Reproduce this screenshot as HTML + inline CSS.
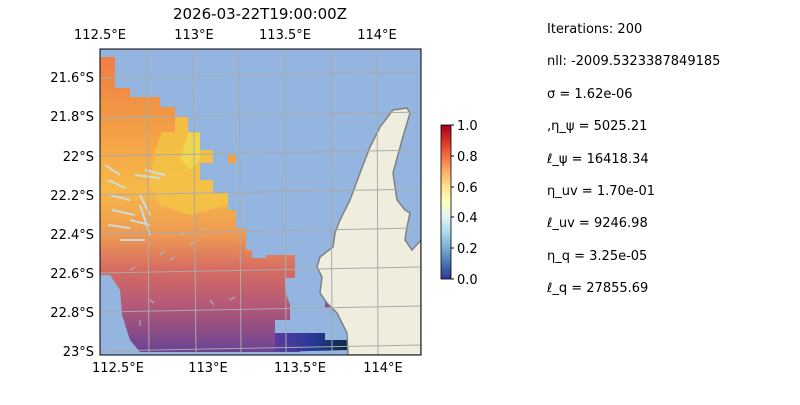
<!DOCTYPE html>
<html><head><style>
body{margin:0;background:#fff;width:800px;height:400px;overflow:hidden;font-family:"Liberation Sans","DejaVu Sans",sans-serif;}
svg text{font-family:"DejaVu Sans","Liberation Sans",sans-serif;font-size:13px;fill:#000}
</style></head><body>
<svg width="800" height="400" xmlns="http://www.w3.org/2000/svg">
<defs>
<linearGradient id="cb" x1="0" y1="1" x2="0" y2="0">
<stop offset="0" stop-color="#313695"/><stop offset="0.1" stop-color="#4575b4"/><stop offset="0.2" stop-color="#74add1"/><stop offset="0.3" stop-color="#abd9e9"/><stop offset="0.4" stop-color="#e0f3f8"/><stop offset="0.5" stop-color="#ffffbf"/><stop offset="0.6" stop-color="#fee090"/><stop offset="0.7" stop-color="#fdae61"/><stop offset="0.8" stop-color="#f46d43"/><stop offset="0.9" stop-color="#d73027"/><stop offset="1" stop-color="#a50026"/>
</linearGradient>
<linearGradient id="fld" x1="0" y1="57" x2="0" y2="352" gradientUnits="userSpaceOnUse">
<stop offset="0" stop-color="#ef7d45"/><stop offset="0.25" stop-color="#f3a045"/><stop offset="0.45" stop-color="#f7b948"/><stop offset="0.6" stop-color="#ee9a52"/><stop offset="0.72" stop-color="#d66c62"/><stop offset="0.85" stop-color="#b25878"/><stop offset="1" stop-color="#6a4294"/>
</linearGradient>
<linearGradient id="blu" x1="275" y1="0" x2="348" y2="0" gradientUnits="userSpaceOnUse">
<stop offset="0" stop-color="#5a3aa0"/><stop offset="0.5" stop-color="#283a98"/><stop offset="1" stop-color="#0a2a45"/>
</linearGradient>
<clipPath id="ax"><rect x="100" y="49" width="321" height="306"/></clipPath>
</defs>
<rect x="100" y="49" width="321" height="306" fill="#94b5e0"/>
<g clip-path="url(#ax)">
<polygon fill="url(#fld)" points="100,57 115,57 115,88 130,88 130,97 160,97 160,107 175,107 175,117 188,117 188,132 200,132 200,150 213,150 213,163 200,163 200,180 213,180 213,193 228,193 228,210 236,210 236,228 246,228 246,250 252,250 252,258 266,258 266,255 295,255 295,278 285,278 285,290 290,305 290,320 275,320 275,335 300,335 300,352 240,352 140,352 130,340 122,315 120,290 110,275 100,275"/>
<polygon fill="#f4c145" opacity="0.9" points="162,132 175,132 175,117 188,117 188,132 200,132 200,150 213,150 213,163 200,163 200,180 213,180 213,193 228,193 228,205 190,215 160,205 150,185 155,150"/>
<polygon fill="#ece050" opacity="0.7" points="188,133 200,133 200,160 190,170 180,160"/>
<polygon fill="url(#blu)" points="275,333 325,333 325,340 348,340 348,350 275,352"/>
<rect x="325" y="300" width="8" height="8" fill="#8a4a90"/>
<rect x="228" y="155" width="8" height="8" fill="#f4a040"/>
<g stroke="#c8e4f0" stroke-width="2" opacity="0.85" fill="none">
<path d="M105,165 L120,175 M108,180 L125,188 M110,195 L130,200 M112,210 L135,215 M108,225 L130,228 M120,240 L145,240 M135,175 L160,178 M140,195 L150,215 M145,170 L165,175 M140,205 L150,235 M130,220 L150,225"/>
</g>
<g stroke="#9ec8e0" stroke-width="1.2" opacity="0.8">
<path d="M130,270 l5,-3 M160,255 l5,-4 M180,235 l5,-2 M200,230 l5,-2 M210,300 l4,5 M230,300 l5,-3 M140,320 l0,6 M150,300 l4,3 M190,245 l4,-2 M170,260 l5,-3"/>
</g>
<polygon fill="#efedde" stroke="#808080" stroke-width="1.5" points="393,110 407,108 410,113 402,140 393,173 397,200 405,210 410,213 407,227 405,240 412,250 421,240 421,355 348,355 347,333 337,313 327,303 320,293 322,277 317,267 320,257 333,247 335,233 340,220 350,200 360,173 370,147 380,127"/>
<g stroke="#aaaaaa" stroke-width="1" fill="none">
<path d="M147,49 L149,355 M193,49 L196,355 M239,49 L241,355 M285,49 L286,355 M331,49 L332,355 M377,49 L378,355"/>
<path d="M100,78 L421,72 M100,118 L421,112 M100,156 L421,150 M100,195 L421,189 M100,234 L421,228 M100,273 L421,267 M100,312 L421,306 M100,351 L421,345"/>
</g>
</g>
<rect x="100" y="49" width="321" height="306" fill="none" stroke="#000" stroke-width="1"/>
<text x="260" y="19" text-anchor="middle" font-size="15" style="font-size:15px">2026-03-22T19:00:00Z</text>
<g text-anchor="middle">
<text x="100" y="39">112.5°E</text><text x="194" y="39">113°E</text><text x="285" y="39">113.5°E</text><text x="377" y="39">114°E</text>
<text x="118" y="372">112.5°E</text><text x="208" y="372">113°E</text><text x="300" y="372">113.5°E</text><text x="383" y="372">114°E</text>
</g>
<g text-anchor="end">
<text x="94" y="82">21.6°S</text><text x="94" y="121">21.8°S</text><text x="94" y="161">22°S</text><text x="94" y="200">22.2°S</text><text x="94" y="239">22.4°S</text><text x="94" y="278">22.6°S</text><text x="94" y="317">22.8°S</text><text x="94" y="356">23°S</text>
</g>
<rect x="441" y="125" width="10" height="154" fill="url(#cb)" stroke="#000" stroke-width="0.8"/>
<g stroke="#000"><path d="M451,125h3M451,156h3M451,187h3M451,217h3M451,248h3M451,279h3"/></g>
<text x="457" y="130">1.0</text><text x="457" y="161">0.8</text><text x="457" y="192">0.6</text><text x="457" y="222">0.4</text><text x="457" y="253">0.2</text><text x="457" y="284">0.0</text>
<g>
<text x="547" y="33">Iterations: 200</text>
<text x="547" y="65">nll: -2009.5323387849185</text>
<text x="547" y="98">σ = 1.62e-06</text>
<text x="547" y="130">,η_ψ = 5025.21</text>
<text x="547" y="163">ℓ_ψ = 16418.34</text>
<text x="547" y="195">η_uv = 1.70e-01</text>
<text x="547" y="227">ℓ_uv = 9246.98</text>
<text x="547" y="260">η_q = 3.25e-05</text>
<text x="547" y="292">ℓ_q = 27855.69</text>
</g>
</svg>
</body></html>
